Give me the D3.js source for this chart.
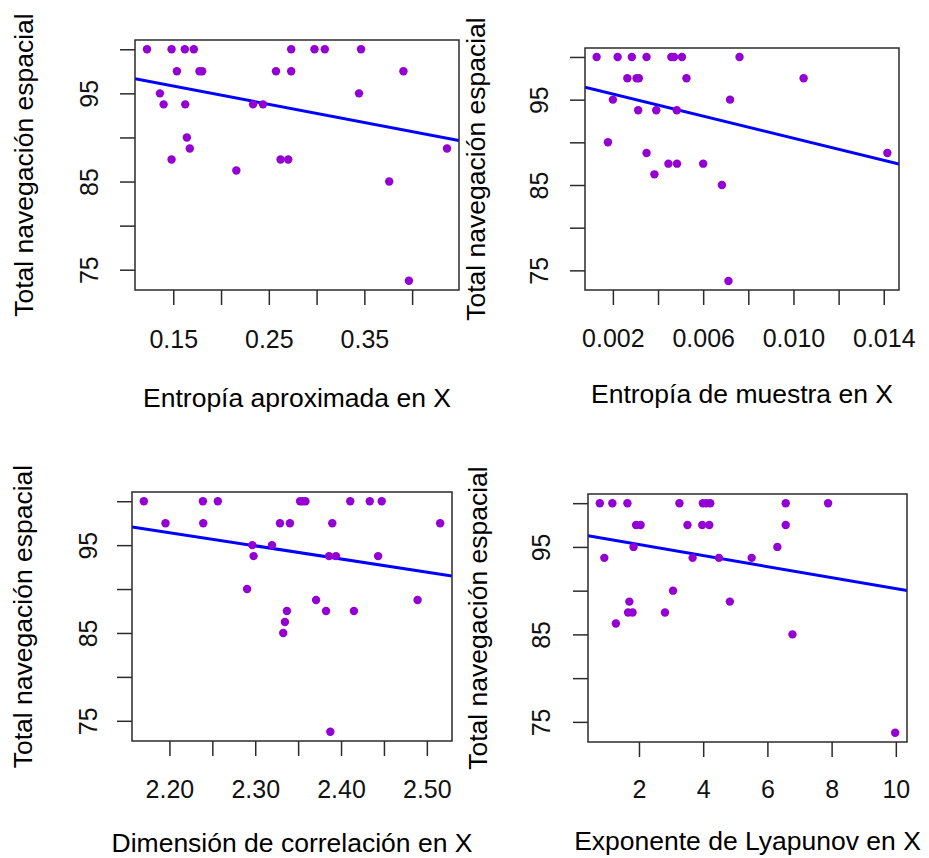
<!DOCTYPE html>
<html lang="es">
<head>
  <meta charset="UTF-8">
  <title>Total navegación espacial vs. medidas no lineales en X</title>
  <script src="https://d3js.org/d3.v7.min.js"></script>
  <style>
    body {
      margin: 0;
      background: #fff;
      font-family: "Liberation Sans", Arial, sans-serif;
    }

    svg {
      display: block;
    }

    .box {
      fill: none;
      stroke: #2b2b2b;
      stroke-width: 1.5;
    }

    .axis line {
      stroke: #2b2b2b;
      stroke-width: 1.5;
    }

    .axis text {
      font-family: "Liberation Sans", Arial, sans-serif;
      font-size: 25px;
      fill: #111;
    }

    .label {
      font-size: 26.5px;
      fill: #000;
    }
  </style>
</head>
<body>
  <svg id="chart"></svg>
  <script>
    // Entropía aproximada en X
    const apEnX = [0.1225, 0.1482, 0.1621, 0.1715, 0.2734, 0.2978, 0.3086, 0.3465,
      0.1538, 0.1774, 0.1802, 0.2575, 0.2734, 0.3909,
      0.1360, 0.3444,
      0.1399, 0.1625, 0.2335, 0.2439,
      0.1642,
      0.1673, 0.4365,
      0.1482, 0.2623, 0.2703,
      0.2160,
      0.3760,
      0.3966];
    const apEnY = [100, 100, 100, 100, 100, 100, 100, 100,
      97.5, 97.5, 97.5, 97.5, 97.5, 97.5,
      95, 95,
      93.75, 93.75, 93.75, 93.75,
      90,
      88.75, 88.75,
      87.5, 87.5, 87.5,
      86.25,
      85,
      73.75];

    // Entropía de muestra en X
    const sampEnX = [0.00128, 0.00221, 0.00284, 0.00349, 0.00459, 0.00471, 0.00506, 0.00761,
      0.00264, 0.00305, 0.00315, 0.00526, 0.01045,
      0.00200, 0.00719,
      0.00312, 0.00392, 0.00483,
      0.00178,
      0.00349, 0.01416,
      0.00446, 0.00484, 0.00600,
      0.00384,
      0.00683,
      0.00712];
    const sampEnY = [100, 100, 100, 100, 100, 100, 100, 100,
      97.5, 97.5, 97.5, 97.5, 97.5,
      95, 95,
      93.75, 93.75, 93.75,
      90,
      88.75, 88.75,
      87.5, 87.5, 87.5,
      86.25,
      85,
      73.75];

    // Dimensión de correlación en X
    const corrDimX = [2.1702, 2.2390, 2.2564, 2.3523, 2.3554, 2.3585, 2.4107, 2.4335, 2.4474,
      2.1954, 2.2394, 2.3288, 2.3404, 2.3898, 2.5155,
      2.2966, 2.3195,
      2.2981, 2.3860, 2.3941, 2.4432,
      2.2905,
      2.3709, 2.4892,
      2.3369, 2.3825, 2.4150,
      2.3346,
      2.3326,
      2.3875];
    const corrDimY = [100, 100, 100, 100, 100, 100, 100, 100, 100,
      97.5, 97.5, 97.5, 97.5, 97.5, 97.5,
      95, 95,
      93.75, 93.75, 93.75, 93.75,
      90,
      88.75, 88.75,
      87.5, 87.5, 87.5,
      86.25,
      85,
      73.75];

    // Exponente de Lyapunov en X
    const lyapX = [0.78, 1.17, 1.64, 3.26, 3.99, 4.10, 4.22, 6.57, 7.89,
      1.91, 2.05, 3.51, 3.97, 4.19, 6.57,
      1.83, 6.31,
      0.92, 3.67, 4.49, 5.51,
      3.06,
      1.70, 4.83,
      1.66, 1.80, 2.81,
      1.28,
      6.78,
      9.98];
    const lyapY = corrDimY;

    // ticks
    const yTicks = [75, 80, 85, 90, 95, 100];
    const yTickLabels = [75, 85, 95];
    const apEnTicks = [0.15, 0.20, 0.25, 0.30, 0.35, 0.40];
    const apEnTickLabels = [0.15, 0.25, 0.35];
    const sampEnTicks = [0.002, 0.004, 0.006, 0.008, 0.010, 0.012, 0.014];
    const sampEnTickLabels = [0.002, 0.006, 0.010, 0.014];
    const corrDimTicks = [2.20, 2.25, 2.30, 2.35, 2.40, 2.45, 2.50];
    const corrDimTickLabels = [2.20, 2.30, 2.40, 2.50];
    const lyapTicks = [2, 4, 6, 8, 10];
    const lyapTickLabels = [2, 4, 6, 8, 10];

    const yTitle = "Total navegación espacial";

    const panels = [
      { x: apEnX, y: apEnY, ticks: apEnTicks, labels: apEnTickLabels, fmt: ".2f",
        title: "Entropía aproximada en X",
        l: 135, r: 459, t: 40, b: 290, yLab: 33, yTickLab: 98, xTickLab: 348, xLab: 407 },
      { x: sampEnX, y: sampEnY, ticks: sampEnTicks, labels: sampEnTickLabels, fmt: ".3f",
        title: "Entropía de muestra en X",
        l: 585, r: 899, t: 48, b: 290, yLab: 485, yTickLab: 548, xTickLab: 347, xLab: 403 },
      { x: corrDimX, y: corrDimY, ticks: corrDimTicks, labels: corrDimTickLabels, fmt: ".2f",
        title: "Dimensión de correlación en X",
        l: 132, r: 452, t: 492, b: 741, yLab: 32, yTickLab: 97, xTickLab: 798, xLab: 852 },
      { x: lyapX, y: lyapY, ticks: lyapTicks, labels: lyapTickLabels, fmt: "d",
        title: "Exponente de Lyapunov en X",
        l: 588, r: 907, t: 494, b: 742, yLab: 487, yTickLab: 550, xTickLab: 798, xLab: 850 }
    ];

    const width = 929;
    const height = 858;
    const tickLen = 15;

    const svg = d3.select("#chart")
      .attr("width", width)
      .attr("height", height);

    // R style: data range extended by 4% on each side
    function padExtent(vals) {
      const [lo, hi] = d3.extent(vals);
      const pad = (hi - lo) * 0.04;
      return [lo - pad, hi + pad];
    }

    function fit(xs, ys) {
      const mx = d3.mean(xs), my = d3.mean(ys);
      let sxy = 0, sxx = 0;
      xs.forEach((v, i) => {
        sxy += (v - mx) * (ys[i] - my);
        sxx += (v - mx) * (v - mx);
      });
      const slope = sxy / sxx;
      return { slope, intercept: my - slope * mx };
    }

    panels.forEach((p, k) => {
      const x = d3.scaleLinear().domain(padExtent(p.x)).range([p.l, p.r]);
      const y = d3.scaleLinear().domain(padExtent(p.y)).range([p.b, p.t]);
      const g = svg.append("g");
      const isLabel = (d, list) => list.some(v => Math.abs(v - d) < 1e-9);

      // clip for the regression line
      g.append("clipPath")
        .attr("id", "clip" + k)
        .append("rect")
        .attr("x", p.l).attr("y", p.t)
        .attr("width", p.r - p.l).attr("height", p.b - p.t);

      // x axis
      const fx = d3.format(p.fmt);
      const xAxis = g.append("g")
        .attr("class", "axis")
        .attr("transform", `translate(0,${p.b})`)
        .call(d3.axisBottom(x).tickValues(p.ticks).tickSize(tickLen)
          .tickFormat(d => isLabel(d, p.labels) ? fx(d) : ""));
      xAxis.select(".domain").remove();
      xAxis.selectAll("text")
        .attr("y", p.xTickLab - p.b)
        .attr("dy", null);

      // y axis (labels parallel to the axis)
      const yAxis = g.append("g")
        .attr("class", "axis")
        .attr("transform", `translate(${p.l},0)`)
        .call(d3.axisLeft(y).tickValues(yTicks).tickSize(tickLen)
          .tickFormat(d => isLabel(d, yTickLabels) ? d : ""));
      yAxis.select(".domain").remove();
      yAxis.selectAll("text")
        .attr("x", 0)
        .attr("y", 0)
        .attr("dy", null)
        .attr("text-anchor", "middle")
        .attr("transform", `translate(${p.yTickLab - p.l},0) rotate(-90)`);

      // regression line
      const lm = fit(p.x, p.y);
      const xd = x.domain();
      g.append("line")
        .attr("clip-path", `url(#clip${k})`)
        .attr("x1", x(xd[0]))
        .attr("y1", y(lm.intercept + lm.slope * xd[0]))
        .attr("x2", x(xd[1]))
        .attr("y2", y(lm.intercept + lm.slope * xd[1]))
        .attr("stroke", "#0000ff")
        .attr("stroke-width", 3);

      // points
      g.selectAll("circle")
        .data(p.x.map((v, i) => [v, p.y[i]]))
        .enter()
        .append("circle")
        .attr("cx", d => x(d[0]))
        .attr("cy", d => y(d[1]))
        .attr("r", 4.2)
        .attr("fill", "#9400d3");

      // box
      g.append("rect")
        .attr("class", "box")
        .attr("x", p.l).attr("y", p.t)
        .attr("width", p.r - p.l).attr("height", p.b - p.t);

      // axis titles
      g.append("text")
        .attr("class", "label")
        .attr("x", (p.l + p.r) / 2)
        .attr("y", p.xLab)
        .attr("text-anchor", "middle")
        .text(p.title);

      g.append("text")
        .attr("class", "label")
        .attr("text-anchor", "middle")
        .attr("transform", `translate(${p.yLab},${(p.t + p.b) / 2}) rotate(-90)`)
        .text(yTitle);
    });
  </script>
</body>
</html>
